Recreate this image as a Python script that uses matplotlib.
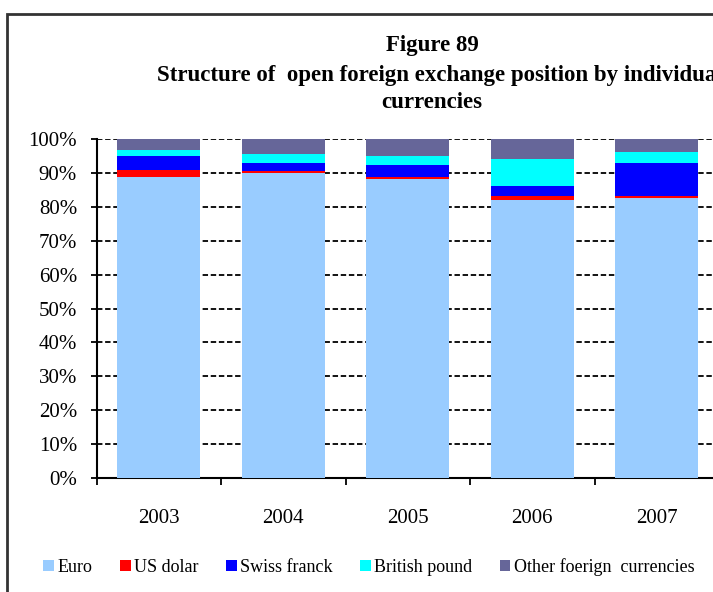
import numpy as np
import matplotlib.pyplot as plt
from matplotlib.patches import Rectangle

# data (shares in %)
years = ['2003', '2004', '2005', '2006', '2007']
euro = [88.9, 90.1, 88.3, 82.0, 82.5]
us_dolar = [2.0, 0.4, 0.5, 1.1, 0.6]
swiss_franck = [4.1, 2.5, 3.6, 3.0, 9.9]
british_pound = [1.7, 2.7, 2.7, 8.0, 3.2]
other = [3.3, 4.3, 4.9, 5.9, 3.8]

series = [('Euro', euro, '#99CCFF'),
          ('US dolar', us_dolar, '#FF0000'),
          ('Swiss franck', swiss_franck, '#0000FF'),
          ('British pound', british_pound, '#00FFFF'),
          ('Other foerign  currencies', other, '#666699')]

plt.rcParams['font.family'] = 'Liberation Serif'

fig = plt.figure(figsize=(7.13, 5.92), dpi=100)
ax = fig.add_axes([96.5 / 713, 114 / 592, 622.5 / 713, 339 / 592])

x = np.arange(len(years))
bottom = np.zeros(len(years))
for name, vals, col in series:
    vals = np.array(vals) / 100.0
    ax.bar(x, vals, width=0.67, bottom=bottom, color=col, label=name, zorder=3)
    bottom = bottom + vals

# dashed gridlines
for v in np.arange(0.1, 1.01, 0.1):
    ax.axhline(v, color='black', linestyle=(0, (3, 1.5)), linewidth=1.3, zorder=1)

ax.set_xlim(-0.5, 4.5)
ax.set_ylim(0, 1.0)
ax.set_yticks(np.arange(0, 1.01, 0.1))
ax.set_yticklabels([f'{int(round(v * 100))}%' for v in np.arange(0, 1.01, 0.1)], fontsize=15)
ax.set_xticks(x)
ax.set_xticklabels(years, fontsize=15)
ax.tick_params(axis='x', length=0, pad=22)
ax.set_xticks(np.arange(-0.5, 4.6, 1), minor=True)
ax.tick_params(axis='x', which='minor', length=5, width=1.3, direction='out')
ax.tick_params(axis='y', length=4, width=1.3, direction='out', pad=10)

for s in ['top', 'right']:
    ax.spines[s].set_visible(False)
ax.spines['left'].set_linewidth(1.5)
ax.spines['bottom'].set_linewidth(1.5)

# title
fig.text(432 / 713, 1 - 46 / 592, 'Figure 89', ha='center', va='center',
         fontsize=16.5, fontweight='bold')
fig.text(440 / 713, 1 - 76 / 592,
         'Structure of  open foreign exchange position by individual',
         ha='center', va='center', fontsize=16.5, fontweight='bold')
fig.text(432 / 713, 1 - 103 / 592, 'currencies', ha='center', va='center',
         fontsize=16.5, fontweight='bold')

# legend
fig.legend(loc='center', bbox_to_anchor=(369 / 713, 1 - 567 / 592), ncol=5,
           frameon=False, fontsize=13, handlelength=0.6, handleheight=0.6,
           handletextpad=0.2, columnspacing=1.5)

# outer frame
fig.patches.append(Rectangle((7 / 713, -0.2), 1.2, 1.2 - 14 / 592,
                             transform=fig.transFigure, fill=False,
                             edgecolor='#333333', linewidth=2))

fig.savefig('out.png', dpi=100)
